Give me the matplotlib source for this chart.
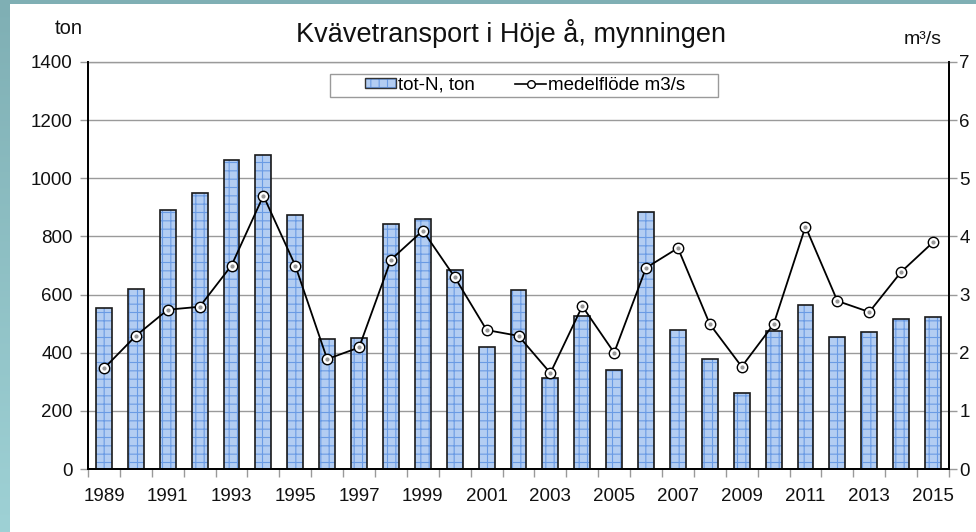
import matplotlib
matplotlib.use("Agg")
import matplotlib.pyplot as plt
import numpy as np
from matplotlib.patches import Patch, Rectangle
from matplotlib.lines import Line2D
from matplotlib.legend_handler import HandlerTuple

plt.rcParams['font.family'] = ['Liberation Sans', 'DejaVu Sans']
plt.rcParams['hatch.linewidth'] = 0.8

years = list(range(1989, 2016))
tot_n = [553, 620, 892, 949, 1062, 1079, 873, 446, 450, 842, 859, 686, 418, 615,
         314, 525, 340, 883, 479, 380, 262, 474, 563, 453, 470, 515, 523]
flow = [1.73, 2.29, 2.74, 2.79, 3.50, 4.70, 3.50, 1.89, 2.09, 3.60, 4.10, 3.30,
        2.39, 2.29, 1.65, 2.80, 2.00, 3.46, 3.80, 2.49, 1.76, 2.49, 4.17, 2.89,
        2.70, 3.39, 3.90]
title = "Kvävetransport i Höje å, mynningen"
left_unit = "ton"
right_unit = "m³/s"
bar_label = "tot-N, ton"
line_label = "medelflöde m3/s"

W, H = 976, 532
fig = plt.figure(figsize=(W / 100, H / 100), dpi=100)
fig.patch.set_facecolor('white')

# teal frame (left strip gradient + top strip)
bax = fig.add_axes([0, 0, 10 / W, 1])
grad = np.linspace(0, 1, 256).reshape(-1, 1)
c_top = np.array([127, 175, 180]) / 255
c_bot = np.array([158, 209, 213]) / 255
img = c_top[None, None, :] * (1 - grad[..., None]) + c_bot[None, None, :] * grad[..., None]
bax.imshow(img, aspect='auto', extent=[0, 1, 0, 1])
bax.axis('off')
fig.patches.append(Rectangle((0, 1 - 4 / H), 1, 4 / H, transform=fig.transFigure,
                             facecolor=(127 / 255, 175 / 255, 180 / 255), edgecolor='none'))

x0, x1 = 88 / W, 949 / W
y0, y1 = 1 - 469 / H, 1 - 62 / H
ax = fig.add_axes([x0, y0, x1 - x0, y1 - y0])
x = np.arange(len(years))

fill_c = '#B3CDF2'
hatch_c = '#6A9BE4'
ax.bar(x, tot_n, width=0.5, color=fill_c, edgecolor=hatch_c, hatch='++', linewidth=0, zorder=2)
ax.bar(x, tot_n, width=0.5, facecolor='none', edgecolor='#1a1a1a', linewidth=1.2, zorder=3)

fs = 13.5
ax.set_xlim(-0.5, len(years) - 0.5)
ax.set_ylim(0, 1400)
ax.set_yticks(np.arange(0, 1401, 200))
ax.yaxis.grid(True, color='#9a9a9a', linewidth=1)
ax.set_axisbelow(True)
ax.set_xticks(np.arange(-0.5, len(years), 1))
ax.set_xticklabels([])
ax.set_xticks(x[::2], minor=True)
ax.set_xticklabels([str(y) for y in years[::2]], minor=True)
ax.tick_params(axis='x', which='major', length=6, width=1, color='#9a9a9a', direction='out')
ax.tick_params(axis='x', which='minor', length=0, pad=14, labelsize=fs, colors='#111111')
ax.tick_params(axis='y', length=6, width=1, color='#9a9a9a', labelsize=fs, pad=5, labelcolor='#111111')
for s in ['left', 'bottom', 'right']:
    ax.spines[s].set_color('black')
    ax.spines[s].set_linewidth(1.3)
ax.spines['top'].set_color('#9a9a9a')
ax.spines['top'].set_linewidth(1)

ax2 = ax.twinx()
ax2.set_ylim(0, 7)
ax2.set_yticks(range(0, 8))
ax2.plot(x, flow, color='black', linewidth=1.3, marker='o', markersize=7.5,
         markerfacecolor='white', markeredgecolor='black', markeredgewidth=1, zorder=5)
ax2.plot(x, flow, linestyle='none', marker='o', markersize=2, color='#999999', zorder=6)
ax2.tick_params(axis='y', length=6, width=1, color='#9a9a9a', labelsize=fs, pad=1.5, labelcolor='#111111')
for s in ['left', 'bottom', 'right']:
    ax2.spines[s].set_color('black')
    ax2.spines[s].set_linewidth(1.3)
ax2.spines['top'].set_visible(False)

fig.text(511 / W, 1 - 33 / H, title, ha='center', va='center', fontsize=19.5, color='#111111')
fig.text(69 / W, 1 - 29 / H, left_unit, ha='center', va='center', fontsize=14.5, color='#111111')
fig.text(923 / W, 1 - 39 / H, right_unit, ha='center', va='center', fontsize=14, color='#111111')

# legend box
fig.patches.append(Rectangle((330 / W, 1 - 97 / H), (718 - 330) / W, (97 - 74) / H,
                             transform=fig.transFigure, facecolor='white',
                             edgecolor='#9a9a9a', linewidth=1, zorder=10))
h_bar = (Patch(facecolor=fill_c, edgecolor=hatch_c, hatch='++', linewidth=0),
         Patch(facecolor='none', edgecolor='#333333', linewidth=1))
h_line = Line2D([], [], color='black', linewidth=1.2, marker='o', markersize=5.5,
                markerfacecolor='white', markeredgecolor='black')
leg = fig.legend([h_bar, h_line], [bar_label, line_label], loc='center',
                 bbox_to_anchor=(525 / W, 1 - 85.5 / H), ncol=2, frameon=False,
                 fontsize=fs, handlelength=1.7, handleheight=0.45, handletextpad=0.1,
                 columnspacing=2.1, handler_map={tuple: HandlerTuple(ndivide=1, pad=0)})
leg.set_zorder(11)

fig.savefig('out.png', dpi=100, facecolor='white')
